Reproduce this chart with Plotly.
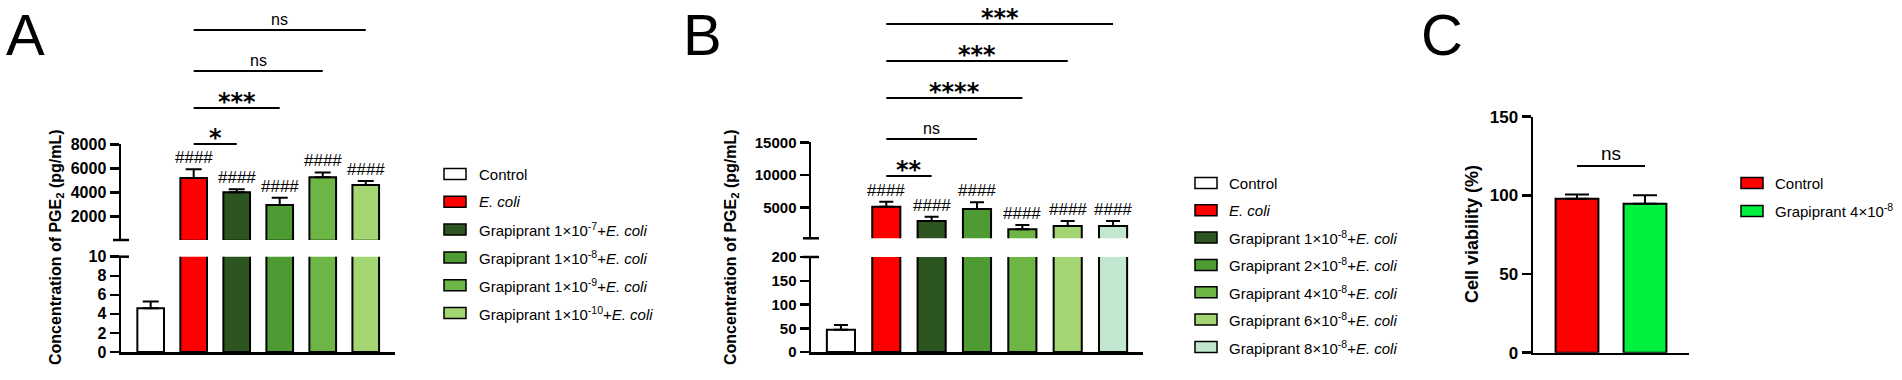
import plotly.graph_objects as go

W, H = 1902, 380
FONT = "Liberation Sans, Arial, sans-serif"
STAR_FONT = "DejaVu Sans, Liberation Sans, sans-serif"


def px(x):
    return x / W


def py(y):
    return 1 - y / H


# ---------------- Panel A data ----------------
a_legend = ["Control", "<i>E. coli</i>",
            "Grapiprant 1×10<sup>-7</sup>+<i>E. coli</i>",
            "Grapiprant 1×10<sup>-8</sup>+<i>E. coli</i>",
            "Grapiprant 1×10<sup>-9</sup>+<i>E. coli</i>",
            "Grapiprant 1×10<sup>-10</sup>+<i>E. coli</i>"]
a_means = [4.6, 5200, 4030, 2980, 5260, 4630]
a_errs = [0.7, 740, 250, 600, 410, 330]
a_colors = ["#FFFFFF", "#FF0000", "#2C5520", "#4E9B33", "#6DB544", "#A3D572"]
a_hash = ["", "####", "####", "####", "####", "####"]
a_sig_to = [2, 3, 4, 5]
a_sig_text = ["*", "***", "ns", "ns"]
a_low_ticks = [0, 2, 4, 6, 8, 10]
a_up_ticks = [2000, 4000, 6000, 8000]

# ---------------- Panel B data ----------------
b_legend = ["Control", "<i>E. coli</i>",
            "Grapiprant 1×10<sup>-8</sup>+<i>E. coli</i>",
            "Grapiprant 2×10<sup>-8</sup>+<i>E. coli</i>",
            "Grapiprant 4×10<sup>-8</sup>+<i>E. coli</i>",
            "Grapiprant 6×10<sup>-8</sup>+<i>E. coli</i>",
            "Grapiprant 8×10<sup>-8</sup>+<i>E. coli</i>"]
b_means = [47, 5150, 2970, 4800, 1700, 2200, 2200]
b_errs = [10, 770, 650, 1020, 650, 770, 770]
b_colors = ["#FFFFFF", "#FF0000", "#2C5520", "#4E9B33", "#6DB544", "#A3D572", "#C2E7CF"]
b_hash = ["", "####", "####", "####", "####", "####", "####"]
b_sig_to = [2, 3, 4, 5, 6]
b_sig_text = ["**", "ns", "****", "***", "***"]
b_low_ticks = [0, 50, 100, 150, 200]
b_up_ticks = [5000, 10000, 15000]

# ---------------- Panel C data ----------------
c_legend = ["Control", "Grapiprant 4×10<sup>-8</sup>"]
c_means = [97.8, 94.6]
c_errs = [2.8, 5.4]
c_colors = ["#FF0000", "#00F03E"]
c_sig_to = [1]
c_sig_text = ["ns"]
c_ticks = [0, 50, 100, 150]

fig = go.Figure()
shapes = []
annots = []

LW = 2.5
TICKLEN = 9


def yaxis_cfg(dom_top, dom_bot, rng, ticks, anchor, fs):
    return dict(domain=[py(dom_bot), py(dom_top)], range=rng, anchor=anchor,
                automargin=False,
                showline=True, linecolor="black", linewidth=LW,
                ticks="outside", ticklen=TICKLEN, tickwidth=LW, tickcolor="black",
                tickvals=ticks, ticktext=[str(t) for t in ticks],
                tickfont=dict(family=FONT, size=fs, color="black", weight="bold"),
                showgrid=False, zeroline=False, fixedrange=True)


def xaxis_cfg(x0, x1, rng, anchor):
    return dict(domain=[px(x0), px(x1)], range=rng, anchor=anchor,
                automargin=False,
                showline=True, linecolor="black", linewidth=LW,
                ticks="", showticklabels=False, showgrid=False, zeroline=False,
                fixedrange=True)


def add_bars(xname, yname, means, errs, colors, width, capw, ymin=None):
    xs = list(range(len(means)))
    ys = [m if (ymin is None or m > ymin) else None for m in means]
    fig.add_trace(go.Bar(
        x=xs, y=ys, xaxis=xname, yaxis=yname, width=width,
        marker=dict(color=colors, line=dict(color="black", width=2)),
        error_y=dict(type="data", array=errs, arrayminus=[0] * len(errs),
                     symmetric=False, color="black", thickness=2, width=capw),
        showlegend=False, hoverinfo="skip"))


def add_hash(xname, yname, means, errs, labels):
    for i, (m, e, t) in enumerate(zip(means, errs, labels)):
        if t:
            annots.append(dict(x=i, y=m + e, xref=xname, yref=yname, text=t,
                               showarrow=False, yanchor="bottom", yshift=0,
                               font=dict(family=FONT, size=17, color="black")))


def add_sig(xname, base, targets, texts, ys, fs_ns, ns_gap):
    for j, t, yp in zip(targets, texts, ys):
        shapes.append(dict(type="line", xref=xname, yref="paper", x0=base, x1=j,
                           y0=py(yp), y1=py(yp), line=dict(color="black", width=2)))
        if t == "ns":
            annots.append(dict(x=(base + j) / 2, y=py(yp - ns_gap), xref=xname, yref="paper",
                               text=t, showarrow=False, yanchor="middle",
                               font=dict(family=FONT, size=fs_ns, color="black")))
        else:
            annots.append(dict(x=(base + j) / 2, y=py(yp - 6), xref=xname, yref="paper",
                               text="<b>" + t + "</b>", showarrow=False, yanchor="middle",
                               font=dict(family=STAR_FONT, size=24, color="black")))


def add_legend(x_sw, x_txt, y_rows, labels, colors, fs):
    for yp, lab, col in zip(y_rows, labels, colors):
        shapes.append(dict(type="rect", xref="paper", yref="paper",
                           x0=px(x_sw), x1=px(x_sw + 22), y0=py(yp - 5.5), y1=py(yp + 5.5),
                           fillcolor=col, line=dict(color="black", width=1.5)))
        annots.append(dict(x=px(x_txt), y=py(yp), xref="paper", yref="paper", text=lab,
                           showarrow=False, xanchor="left", yanchor="middle",
                           font=dict(family=FONT, size=fs, color="black")))


def break_marks(xaxis_px, ys):
    for yp in ys:
        shapes.append(dict(type="line", xref="paper", yref="paper",
                           x0=px(xaxis_px - 8), x1=px(xaxis_px + 8), y0=py(yp), y1=py(yp),
                           line=dict(color="black", width=LW)))


def ytitle(xc, yc, text, fs):
    annots.append(dict(x=px(xc), y=py(yc), xref="paper", yref="paper", text=text,
                       textangle=-90, showarrow=False, xanchor="center", yanchor="middle",
                       font=dict(family=FONT, size=fs, color="black", weight="bold")))


def letter(x, text):
    annots.append(dict(x=px(x), y=1, xref="paper", yref="paper", text=text,
                       showarrow=False, xanchor="left", yanchor="top",
                       font=dict(family=FONT, size=58, color="black")))


# ---------------- Panel A ----------------
A_X0, A_X1 = 121, 395
A_UP = [70, 8000]
layout = {}
layout["xaxis"] = xaxis_cfg(A_X0, A_X1, [-0.69, 5.68], "y")
layout["yaxis"] = yaxis_cfg(256.7, 352, [0, 10], a_low_ticks, "x", 16)
layout["yaxis2"] = yaxis_cfg(144.3, 240, A_UP, a_up_ticks, "x", 16)
add_bars("x", "y", a_means, a_errs, a_colors, 0.62, 8)
add_bars("x", "y2", a_means, a_errs, a_colors, 0.62, 8, ymin=A_UP[0])
add_hash("x", "y2", a_means, a_errs, a_hash)
add_sig("x", 1, a_sig_to, a_sig_text, [144, 108, 71, 30], 16, 10.5)
add_legend(444, 477, [174, 201.8, 229.6, 257.4, 285.2, 313], a_legend, a_colors, 15)
break_marks(A_X0, [240, 256.7])
ytitle(56, 247, "Concentration of PGE<sub>2</sub> (pg/mL)", 16)
letter(4, "A")

# ---------------- Panel B ----------------
B_X0, B_X1 = 811, 1143
B_UP = [330, 15000]
layout["xaxis2"] = xaxis_cfg(B_X0, B_X1, [-0.66, 6.66], "y3")
layout["yaxis3"] = yaxis_cfg(257, 352, [0, 200], b_low_ticks, "x2", 15)
layout["yaxis4"] = yaxis_cfg(142.3, 238.3, B_UP, b_up_ticks, "x2", 15)
add_bars("x2", "y3", b_means, b_errs, b_colors, 0.62, 7)
add_bars("x2", "y4", b_means, b_errs, b_colors, 0.62, 7, ymin=B_UP[0])
add_hash("x2", "y4", b_means, b_errs, b_hash)
add_sig("x2", 1, b_sig_to, b_sig_text, [176, 139, 98, 61, 24], 16, 10.5)
add_legend(1195, 1227, [183, 210.3, 237.6, 264.9, 292.2, 319.5, 347], b_legend, b_colors, 15)
break_marks(B_X0, [238.3, 257])
ytitle(731, 247, "Concentration of PGE<sub>2</sub> (pg/mL)", 16)
letter(681, "B")

# ---------------- Panel C ----------------
C_X0, C_X1 = 1533, 1689
layout["xaxis3"] = xaxis_cfg(C_X0, C_X1, [-0.647, 1.647], "y5")
layout["yaxis5"] = yaxis_cfg(116.7, 352.7, [0, 150], c_ticks, "x3", 17)
add_bars("x3", "y5", c_means, c_errs, c_colors, 0.63, 12)
add_sig("x3", 0, c_sig_to, c_sig_text, [166], 19, 12)
add_legend(1741, 1773, [183, 211], c_legend, c_colors, 15)
ytitle(1472, 234, "Cell viability (%)", 18)
letter(1419, "C")

fig.update_layout(
    width=W, height=H, margin=dict(l=0, r=0, t=0, b=0, autoexpand=False),
    paper_bgcolor="white", plot_bgcolor="rgba(0,0,0,0)",
    barmode="overlay", showlegend=False, hovermode=False,
    shapes=shapes, annotations=annots, **layout)

fig.write_html("out.html",
               config={"displayModeBar": False, "staticPlot": True},
               post_script="document.body.style.margin='0';document.body.style.overflow='hidden';")
